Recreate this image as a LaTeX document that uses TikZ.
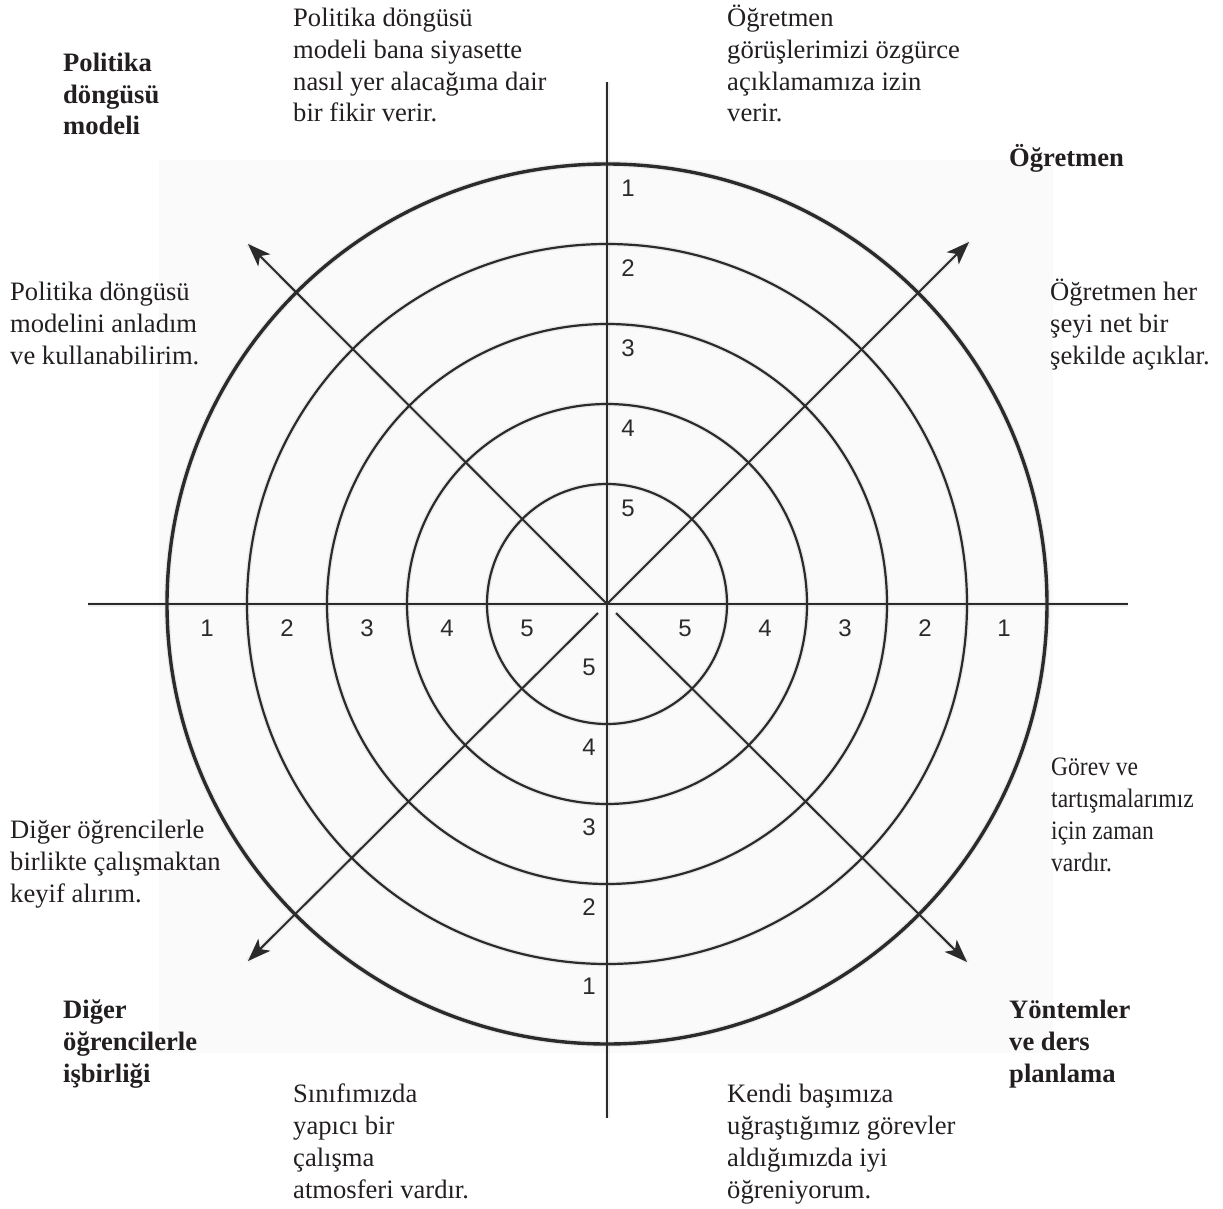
\documentclass[tikz,border=0pt]{standalone}
\usepackage{fontspec}
\setmainfont{Liberation Serif}
\newfontfamily\numfont{Liberation Sans}
\newfontfamily\condfont[FakeStretch=0.885]{Liberation Serif}
\usetikzlibrary{arrows.meta}
\definecolor{ink}{HTML}{2B2B2B}
\definecolor{txt}{HTML}{231F20}
\definecolor{bgpanel}{HTML}{FAFAFA}
\definecolor{shade}{HTML}{D6D6D6}
\begin{document}
\begin{tikzpicture}[x=1pt,y=-1pt,
  ringline/.style={draw=ink,line width=2.2pt},
  outerring/.style={draw=ink,line width=3.4pt},
  axisline/.style={draw=ink,line width=2.2pt},
  pointer/.style={draw=ink,line width=2pt,-{Stealth[length=23pt,width=17pt,inset=6pt]}},
  shadowline/.style={draw=shade,line width=5pt,opacity=0.4},
  bodytext/.style={font=\fontsize{26.6}{31.7}\selectfont,text=txt,align=left,anchor=base west,inner sep=0pt},
  headtext/.style={bodytext,font=\fontsize{26.6}{31.7}\selectfont\bfseries},
  condtext/.style={bodytext,font=\condfont\fontsize{26.6}{31.7}\selectfont},
  numlbl/.style={font=\numfont\fontsize{24}{24}\selectfont,text=ink,inner sep=0pt}
]
\useasboundingbox (0,0) rectangle (1223,1209);
\fill[bgpanel] (159,160) rectangle (1053,1053);

% key points
\coordinate (O) at (607,604);
\coordinate (N) at (607,82);
\coordinate (S) at (607,1118);
\coordinate (W) at (88,604);
\coordinate (E) at (1128,604);
\coordinate (UL) at (248,244);
\coordinate (UR) at (969,242);
\coordinate (DL) at (248,961);
\coordinate (DR) at (967,962);
\coordinate (DLs) at (598,613);
\coordinate (DRs) at (616,613);

% shadows
\begin{scope}[shift={(2.5,3.5)}]
  \foreach \r in {120,200,280,360} \draw[shadowline] (O) circle[radius=\r pt];
  \draw[shadowline,line width=6pt] (O) circle[radius=440pt];
  \draw[shadowline] (N) -- (S);
  \draw[shadowline] (W) -- (E);
  \draw[shadowline] (O) -- (UL);
  \draw[shadowline] (O) -- (UR);
  \draw[shadowline] (DLs) -- (DL);
  \draw[shadowline] (DRs) -- (DR);
\end{scope}

% rings
\foreach \r in {120,200,280,360} \draw[ringline] (O) circle[radius=\r pt];
\draw[outerring] (O) circle[radius=440pt];

% axes
\draw[axisline] (N) -- (S);
\draw[axisline] (W) -- (E);

% diagonal pointers
\draw[pointer] (O) -- (UL);
\draw[pointer] (O) -- (UR);
\draw[pointer] (DLs) -- (DL);
\draw[pointer] (DRs) -- (DR);

% scale numbers
\node[numlbl] (n1) at (628,188) {1};
\node[numlbl] (n2) at (628,268) {2};
\node[numlbl] (n3) at (628,348) {3};
\node[numlbl] (n4) at (628,428) {4};
\node[numlbl] (n5) at (628,508) {5};
\node[numlbl] (s5) at (589,667) {5};
\node[numlbl] (s4) at (589,747) {4};
\node[numlbl] (s3) at (589,827) {3};
\node[numlbl] (s2) at (589,907) {2};
\node[numlbl] (s1) at (589,986) {1};
\node[numlbl] (w1) at (207,628) {1};
\node[numlbl] (w2) at (287,628) {2};
\node[numlbl] (w3) at (367,628) {3};
\node[numlbl] (w4) at (447,628) {4};
\node[numlbl] (w5) at (527,628) {5};
\node[numlbl] (e5) at (685,628) {5};
\node[numlbl] (e4) at (765,628) {4};
\node[numlbl] (e3) at (845,628) {3};
\node[numlbl] (e2) at (925,628) {2};
\node[numlbl] (e1) at (1004,628) {1};

% texts (anchored at the baseline of their last line)
\node[bodytext] (tA) at (293,122) {Politika döngüsü\\modeli bana siyasette\\nasıl yer alacağıma dair\\bir fikir verir.};
\node[headtext] (tB) at (63,135) {Politika\\döngüsü\\modeli};
\node[bodytext] (tC) at (727,122) {Öğretmen\\görüşlerimizi özgürce\\açıklamamıza izin\\verir.};
\node[headtext] (tD) at (1009,167) {Öğretmen};
\node[bodytext] (tE) at (10,364) {Politika döngüsü\\modelini anladım\\ve kullanabilirim.};
\node[bodytext] (tF) at (1050,364) {Öğretmen her\\şeyi net bir\\şekilde açıklar.};
\node[condtext] (tG) at (1051,871) {Görev ve\\tartışmalarımız\\için zaman\\vardır.};
\node[bodytext] (tH) at (10,902) {Diğer öğrencilerle\\birlikte çalışmaktan\\keyif alırım.};
\node[headtext] (tI) at (63,1082) {Diğer\\öğrencilerle\\işbirliği};
\node[headtext] (tJ) at (1009,1082) {Yöntemler\\ve ders\\planlama};
\node[bodytext] (tK) at (293,1198) {Sınıfımızda\\yapıcı bir\\çalışma\\atmosferi vardır.};
\node[bodytext] (tL) at (727,1198) {Kendi başımıza\\uğraştığımız görevler\\aldığımızda iyi\\öğreniyorum.};
\end{tikzpicture}
\end{document}
